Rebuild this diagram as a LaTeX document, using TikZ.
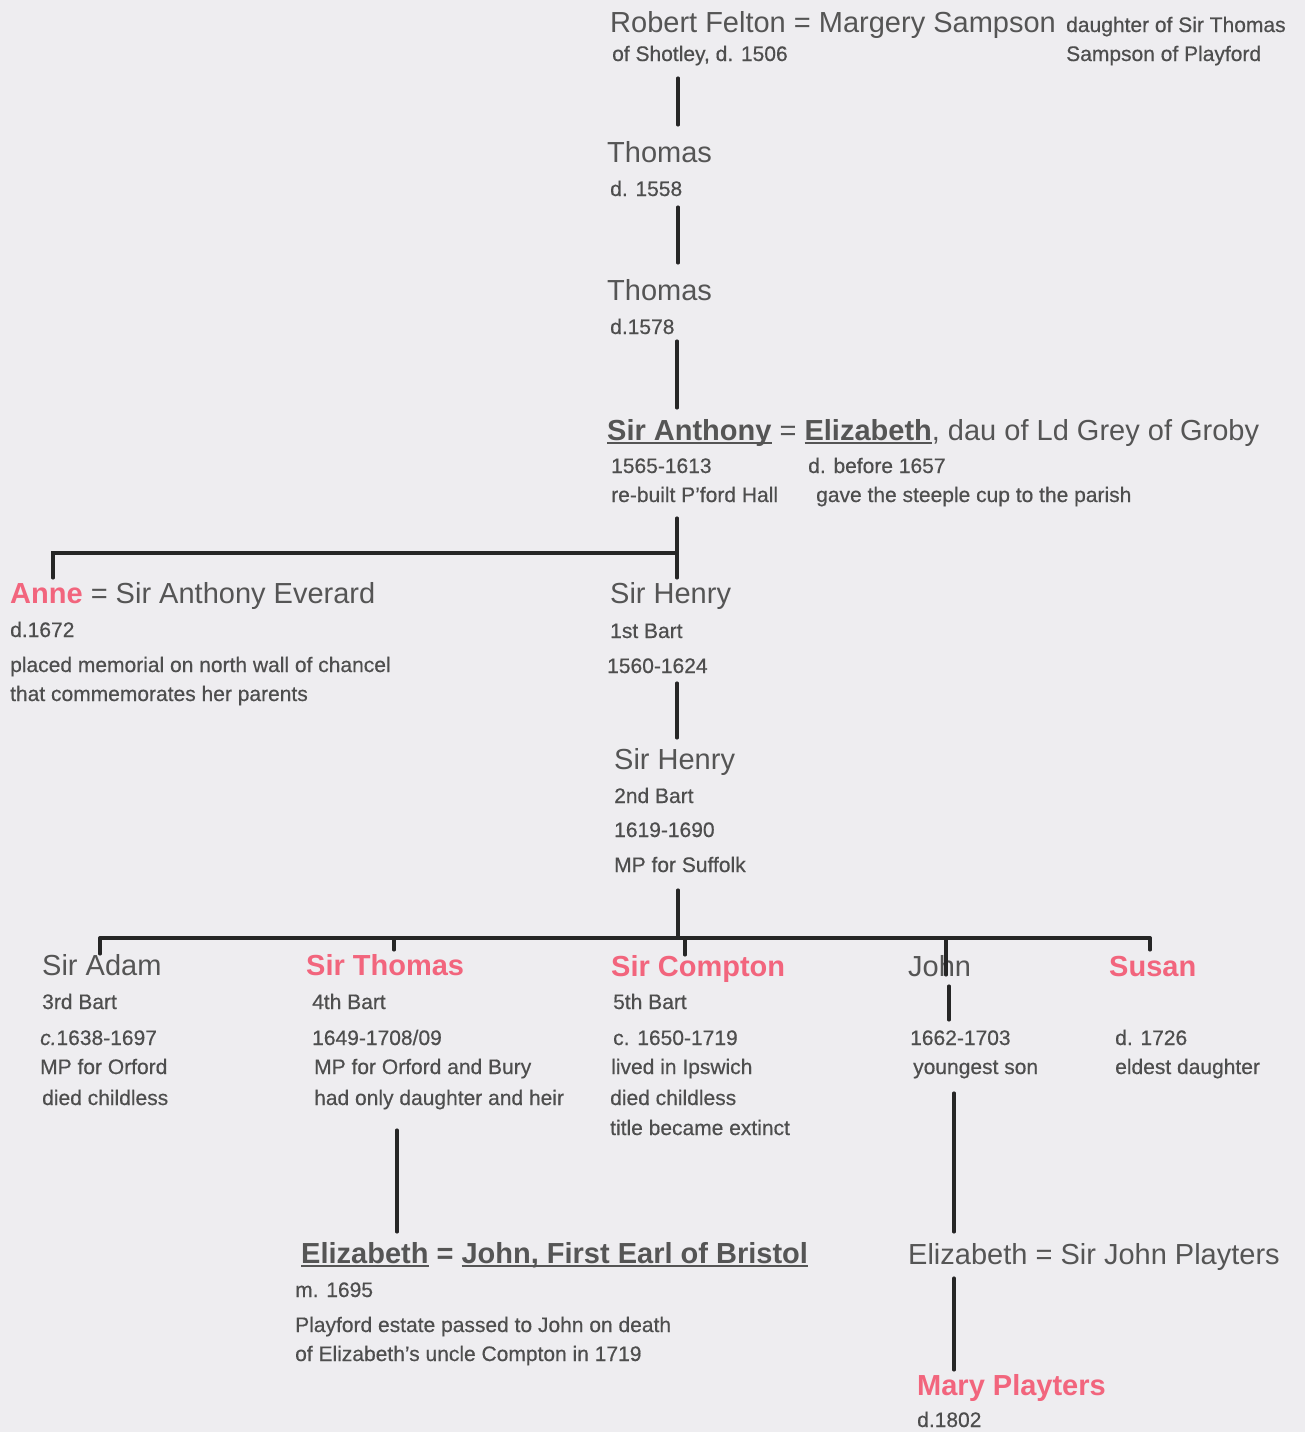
\documentclass[tikz,border=0pt]{standalone}
\usepackage{fontspec}
\newfontfamily\lsansreg{Liberation Sans}
\newfontfamily\lsanssm{Liberation Sans}[FakeBold=0.5]
\newcommand\myBig{\lsansreg\fontsize{29}{34}\selectfont}
\newcommand\mySmall{\lsanssm\fontsize{21}{25}\selectfont}
\newcommand\myul[1]{\setbox0\hbox{#1}\rlap{\rule[-4pt]{\wd0}{2.2pt}}\box0\relax}
\definecolor{bgc}{HTML}{EEEDF0}
\definecolor{txtc}{HTML}{555555}
\definecolor{smc}{HTML}{4E4E4E}
\definecolor{pinkc}{HTML}{F2657D}
\definecolor{linec}{HTML}{262626}
\tikzset{
  big/.style={font=\myBig, text=txtc, anchor=base west, inner sep=0pt, text height=21pt, text depth=6pt},
  sm/.style={font=\mySmall, text=smc, anchor=base west, inner sep=0pt, text height=15pt, text depth=5pt},
  pinkname/.style={big, font=\myBig\bfseries, text=pinkc},
  conn/.style={draw=linec, line width=3.5pt, line cap=round},
}
\begin{document}
\begin{tikzpicture}[x=1pt,y=-1pt]
\fill[bgc] (0,0) rectangle (1305,1432);
\useasboundingbox (0,0) rectangle (1305,1432);

% column coordinates
\coordinate (cA) at (678,0);
\coordinate (cB) at (677,0);
\coordinate (cAnne) at (53,0);
\coordinate (cAdam) at (100,0);
\coordinate (cThos) at (394,0);
\coordinate (cComp) at (685,0);
\coordinate (cJohn) at (946,0);
\coordinate (cJohnB) at (949,0);
\coordinate (cSusan) at (1150,0);
\coordinate (cThosB) at (397,0);
\coordinate (cJ3) at (954,0);
\coordinate (j1) at (677,553);
\coordinate (bar) at (678,938);

% generation 1
\node[big] (rf) at (610,32) {Robert Felton = Margery Sampson};
\node[sm] (dau) at (1066,32) {daughter of Sir Thomas};
\node[sm] (shot) at (612,61) {of Shotley, d. 1506};
\node[sm] (samp) at (1066,61) {Sampson of Playford};

\node[big] (th1) at (607,162) {Thomas};
\node[sm] (d1558) at (610,196) {d. 1558};

\node[big] (th2) at (607,300) {Thomas};
\node[sm] (d1578) at (610,334) {d.1578};

\node[big] (ant) at (607,440) {\textbf{\myul{Sir Anthony}} = \textbf{\myul{Elizabeth}}, dau of Ld Grey of Groby};
\node[sm] (antd) at (611,473) {1565-1613};
\node[sm] (elid) at (808,473) {d. before 1657};
\node[sm] (rebuilt) at (611,502) {re-built P’ford Hall};
\node[sm] (steeple) at (816,502) {gave the steeple cup to the parish};

\node[big] (anne) at (10,603) {\textcolor{pinkc}{\bfseries Anne} = Sir Anthony Everard};
\node[sm] (d1672) at (10,637) {d.1672};
\node[sm] (placed) at (10,672) {placed memorial on north wall of chancel};
\node[sm] (comm) at (10,701) {that commemorates her parents};

\node[big] (hen1) at (610,603) {Sir Henry};
\node[sm] (bart1) at (610,638) {1st Bart};
\node[sm] (hen1d) at (607,673) {1560-1624};

\node[big] (hen2) at (614,769) {Sir Henry};
\node[sm] (bart2) at (614,803) {2nd Bart};
\node[sm] (hen2d) at (614,837) {1619-1690};
\node[sm] (suff) at (614,872) {MP for Suffolk};

% children
\node[big] (adam) at (42,975) {Sir Adam};
\node[pinkname] (thos) at (306,975) {Sir Thomas};
\node[pinkname] (comp) at (611,976) {Sir Compton};
\node[big] (john) at (908,976) {John};
\node[pinkname] (susan) at (1109,976) {Susan};

\node[sm] (adam1) at (42,1009) {3rd Bart};
\node[sm] (thos1) at (312,1009) {4th Bart};
\node[sm] (comp1) at (613,1009) {5th Bart};

\node[sm] (adam2) at (40,1045) {\itshape c.\upshape1638-1697};
\node[sm] (thos2) at (312,1045) {1649-1708/09};
\node[sm] (comp2) at (613,1045) {c. 1650-1719};
\node[sm] (jd) at (910,1045) {1662-1703};
\node[sm] (susd) at (1115,1045) {d. 1726};

\node[sm] (adam3) at (40,1074) {MP for Orford};
\node[sm] (thos3) at (314,1074) {MP for Orford and Bury};
\node[sm] (comp3) at (611,1074) {lived in Ipswich};
\node[sm] (youngest) at (913,1074) {youngest son};
\node[sm] (eldest) at (1115,1074) {eldest daughter};

\node[sm] (adam4) at (42,1105) {died childless};
\node[sm] (hadonly) at (314,1105) {had only daughter and heir};
\node[sm] (comp4) at (610,1105) {died childless};
\node[sm] (comp5) at (610,1135) {title became extinct};

% bottom
\node[big] (eliz1) at (301,1263) {\bfseries\myul{Elizabeth} = \myul{John, First Earl of Bristol}};
\node[sm] (m1695) at (295,1297) {m. 1695};
\node[sm] (play1) at (295,1332) {Playford estate passed to John on death};
\node[sm] (play2) at (295,1361) {of Elizabeth’s uncle Compton in 1719};

\node[big] (eliz2) at (908,1264) {Elizabeth = Sir John Playters};
\node[pinkname] (mary) at (917,1395) {Mary Playters};
\node[sm] (d1802) at (917,1427) {d.1802};

% connectors
\draw[conn, shorten <=12pt, shorten >=16pt] (shot.south -| cA) -- (th1.north -| cA);
\draw[conn, shorten <=6pt, shorten >=16pt] (d1558.south -| cA) -- (th2.north -| cA);
\draw[conn, shorten <=2pt, shorten >=11pt] (d1578.south -| cB) -- (ant.north -| cB);
\draw[conn, shorten <=11pt, shorten >=4pt] (rebuilt.south -| cB) -- (hen1.north -| cB);
\draw[conn, shorten >=4pt] (j1) -| (anne.north -| cAnne);
\draw[conn, shorten <=5pt, shorten >=10pt] (hen1d.south -| cB) -- (hen2.north -| cB);
\draw[conn, shorten <=13pt] (suff.south -| cA) -- (bar);
\draw[conn] (bar -| cAdam) -- (bar -| cSusan);
\draw[conn] (bar -| cAdam) -- (adam.north -| cAdam);
\draw[conn, shorten >=4pt] (bar -| cThos) -- (thos.north -| cThos);
\draw[conn] (bar -| cComp) -- (comp.north -| cComp);
\draw[conn, shorten >=-20pt] (bar -| cJohn) -- (john.north -| cJohn);
\draw[conn, shorten >=5pt] (bar -| cSusan) -- (susan.north -| cSusan);
\draw[conn, shorten <=4pt, shorten >=10pt] (john.south -| cJohnB) -- (jd.north -| cJohnB);
\draw[conn, shorten <=20pt, shorten >=10pt] (hadonly.south -| cThosB) -- (eliz1.north -| cThosB);
\draw[conn, shorten <=14pt, shorten >=11pt] (youngest.south -| cJ3) -- (eliz2.north -| cJ3);
\draw[conn, shorten <=8pt, shorten >=4pt] (eliz2.south -| cJ3) -- (mary.north -| cJ3);
\end{tikzpicture}
\end{document}
